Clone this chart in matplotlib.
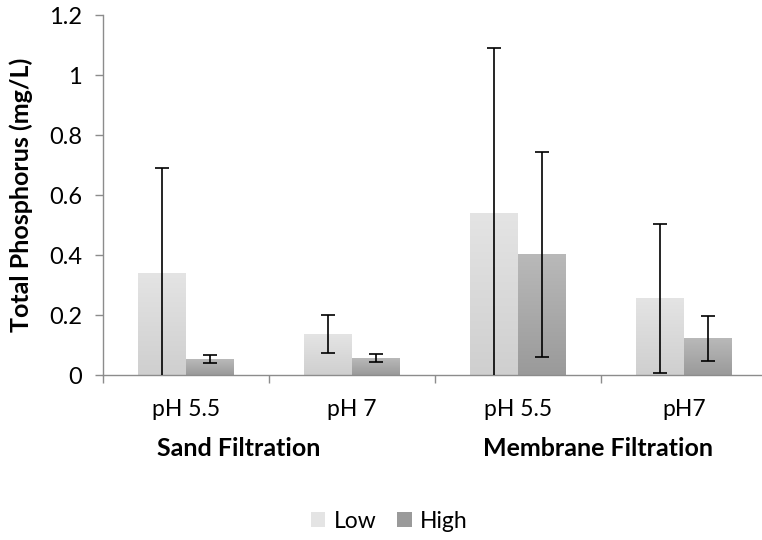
import numpy as np
import matplotlib
matplotlib.use("Agg")
import matplotlib.pyplot as plt
from matplotlib.colors import LinearSegmentedColormap
from matplotlib.patches import Patch

################################################
### Data
categories  = ["pH 5.5", "pH 7", "pH 5.5", "pH7"]
groups      = ["Sand Filtration", "Membrane Filtration"]
series      = ["Low", "High"]
low_mean    = [0.340, 0.136, 0.540, 0.256]
low_err     = [0.350, 0.063, 0.549, 0.248]
high_mean   = [0.053, 0.056, 0.402, 0.122]
high_err    = [0.013, 0.013, 0.342, 0.075]
yticks      = [0, 0.2, 0.4, 0.6, 0.8, 1.0, 1.2]
ytick_lbls  = ["0", "0.2", "0.4", "0.6", "0.8", "1", "1.2"]

plt.rcParams["font.family"] = ["Lato", "DejaVu Sans"]
FS      = 16.5   # regular text
FS_BOLD = 18     # axis / group titles

### colours: (bottom, top) of the vertical gradient
low_cols  = ("#cfcfcf", "#e4e4e4")
high_cols = ("#9a9a9a", "#b9b9b9")
axis_col  = "#8c8c8c"

fig = plt.figure(figsize=(7.62, 5.4), dpi=100)
ax  = fig.add_axes([103/762, 165/540, 659/762, 360/540])

x     = np.arange(len(categories))
width = 0.289
grad  = np.linspace(0, 1, 256).reshape(-1, 1)

def gradient_bars(xpos, heights, cols, label):
    bars = ax.bar(xpos, heights, width, color=cols[1], label=label, zorder=2)
    cmap = LinearSegmentedColormap.from_list(label, list(cols))
    for b in bars:
        x0, y0 = b.get_x(), b.get_y()
        ax.imshow(grad, cmap=cmap, origin="lower", aspect="auto", zorder=2.1,
                  extent=(x0, x0 + b.get_width(), y0, y0 + b.get_height()))
    return bars

gradient_bars(x - width/2, low_mean, low_cols, "Low")
gradient_bars(x + width/2, high_mean, high_cols, "High")

ax.errorbar(x - width/2, low_mean, yerr=low_err, fmt="none", ecolor="black",
            elinewidth=1.2, capsize=4.7, capthick=1.2, zorder=3)
ax.errorbar(x + width/2, high_mean, yerr=high_err, fmt="none", ecolor="black",
            elinewidth=1.2, capsize=4.7, capthick=1.2, zorder=3)

### axes
ax.set_xlim(-0.5, -0.5 + 659/166)
ax.set_ylim(0, 1.2)
ax.set_yticks(yticks)
ax.set_yticklabels(ytick_lbls)
ax.set_xticks([-0.5, 0.5, 1.5, 2.5])
ax.set_xticklabels([])
for s in ["top", "right"]:
    ax.spines[s].set_visible(False)
for s in ["left", "bottom"]:
    ax.spines[s].set_color(axis_col)
    ax.spines[s].set_linewidth(1.0)
ax.tick_params(axis="both", colors=axis_col, length=6, width=1.0,
               labelcolor="black", labelsize=17)
ax.tick_params(axis="y", pad=9)

### category + group labels
for xi, c in zip(x, categories):
    ax.annotate(c, xy=(xi, 0), xycoords=("data", "axes fraction"),
                xytext=(0, -25), textcoords="offset points",
                ha="center", va="center", fontsize=FS)
for gx, g in zip([0.32, 2.48], groups):
    ax.annotate(g, xy=(gx, 0), xycoords=("data", "axes fraction"),
                xytext=(0, -53), textcoords="offset points",
                ha="center", va="center", fontsize=FS_BOLD, fontweight="bold")

fig.text(21/762, 1 - 195/540, "Total Phosphorus (mg/L)", rotation=90,
         ha="center", va="center", fontsize=FS_BOLD, fontweight="bold")

handles = [Patch(facecolor=low_cols[1], edgecolor="none"),
           Patch(facecolor=high_cols[0], edgecolor="none")]
fig.legend(handles, series, loc="center", bbox_to_anchor=(389/762, 19/540),
           ncol=2, frameon=False, fontsize=FS, handlelength=0.65,
           handleheight=0.65, handletextpad=0.35, columnspacing=0.9)

fig.savefig("out.png", dpi=100)
